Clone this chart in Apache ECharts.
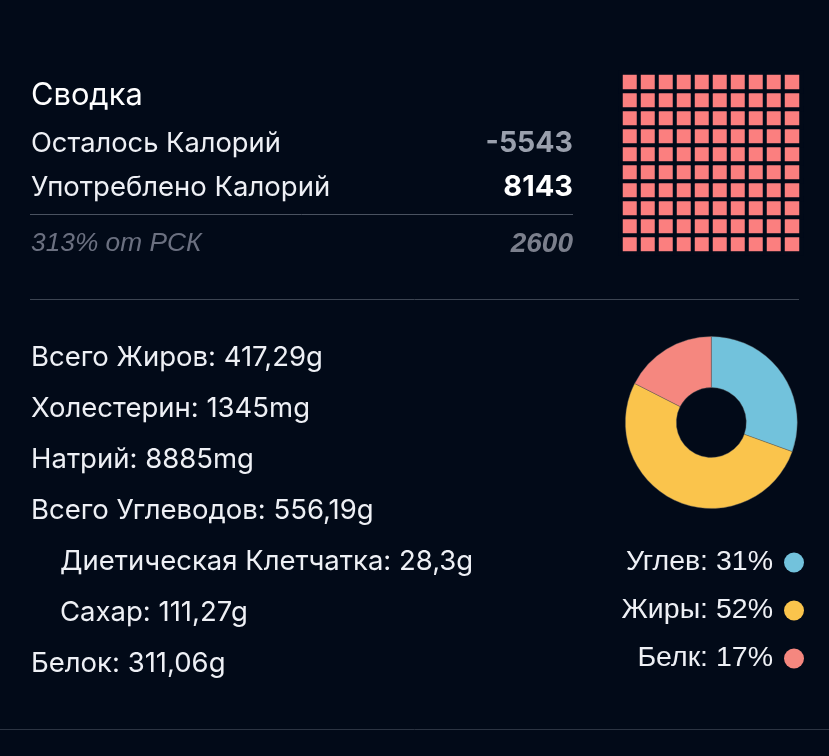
<!DOCTYPE html>
<html>
<head>
<meta charset="utf-8">
<style>
html,body{margin:0;padding:0;background:#020a18;}
#chart{width:829px;height:756px;}
</style>
<script src="https://cdn.jsdelivr.net/npm/echarts@6/dist/echarts.min.js"></script>
</head>
<body>
<div id="chart"></div>
<script>
var macroNames = ['Углев', 'Жиры', 'Белк'];
var macroPercents = [31, 52, 17];
// slice sizes as measured on the donut, the legend shows them rounded
var macroValues = [30.5, 52, 17.5];
var macroColors = ['#72c2dc', '#fac44c', '#f5877f'];

var waffleCols = ['1', '2', '3', '4', '5', '6', '7', '8', '9', '10'];
var waffleRows = ['1', '2', '3', '4', '5', '6', '7', '8', '9', '10'];

var summaryTitle = 'Сводка';
var summaryLabels = ['Осталось Калорий', 'Употреблено Калорий', '313% от РСК'];
var summaryValues = ['-5543', '8143', '2600'];

var nutrientLabels = [
    'Всего Жиров: 417,29g',
    'Холестерин: 1345mg',
    'Натрий: 8885mg',
    'Всего Углеводов: 556,19g',
    'Диетическая Клетчатка: 28,3g',
    'Сахар: 111,27g',
    'Белок: 311,06g'
];
var nutrientIndent = [0, 0, 0, 0, 1, 1, 0];

var bg = '#020a18';
var sans = 'Inter, "Noto Sans", sans-serif';
var helv = '"Liberation Sans", sans-serif';

function text(x, y, str, size, color, opts){
    opts = opts || {};
    return {
        type: 'text',
        x: x,
        y: y,
        silent: true,
        style: {
            text: str,
            fill: color,
            font: (opts.style || '') + ' ' + (opts.weight || 400) + ' ' + size + 'px ' + (opts.family || sans),
            textAlign: opts.align || 'left',
            textVerticalAlign: 'middle'
        }
    };
}

function line(x1, x2, y, color){
    return {
        type: 'line',
        silent: true,
        shape: {x1: x1, y1: y, x2: x2, y2: y},
        style: {stroke: color, lineWidth: 1}
    };
}

function buildGraphic(){
    var items = [];
    items.push(text(31, 95.5, summaryTitle, 30.8, '#ffffff'));
    items.push(text(31, 143.5, summaryLabels[0], 27.3, '#eef0f5'));
    items.push(text(573, 143.5, summaryValues[0], 28.5, '#9aa0ad', {align: 'right', weight: 700}));
    items.push(text(31, 187.5, summaryLabels[1], 27.5, '#eef0f5'));
    items.push(text(573, 187.5, summaryValues[1], 29, '#ffffff', {align: 'right', weight: 700}));
    items.push(line(30, 573, 214.5, '#4a5260'));
    items.push(text(31, 244, summaryLabels[2], 26.3, '#6b7080', {style: 'italic', family: helv}));
    items.push(text(573, 244, summaryValues[2], 28, '#7b7f8c', {style: 'italic', weight: 700, family: helv, align: 'right'}));
    items.push(line(30, 799, 299.5, '#3d4552'));
    nutrientLabels.forEach(function(item, index){
        items.push(text(nutrientIndent[index] ? 60 : 31, 358 + index * 51, item, 27.5, '#eef0f5'));
    });
    items.push(line(0, 829, 729.5, '#2c3442'));
    return items;
}

var waffleData = [];
waffleRows.forEach(function(row){
    waffleCols.forEach(function(col){
        waffleData.push([col, row, 1]);
    });
});

var pieData = macroNames.map(function(name, index){
    return {name: name, value: macroValues[index], itemStyle: {color: macroColors[index]}};
});

var chart = echarts.init(document.getElementById('chart'));
chart.setOption({
    backgroundColor: bg,
    animation: false,
    grid: {left: 621, top: 73, width: 180, height: 180},
    xAxis: {type: 'category', data: waffleCols, show: false},
    yAxis: {type: 'category', data: waffleRows, show: false},
    legend: {
        orient: 'vertical',
        right: 25,
        top: 548,
        padding: 0,
        align: 'right',
        icon: 'circle',
        itemWidth: 20,
        itemHeight: 20,
        itemGap: 19,
        selectedMode: false,
        itemStyle: {borderWidth: 0},
        formatter: function(name){
            return '{t|' + name + ': ' + macroPercents[macroNames.indexOf(name)] + '%}';
        },
        textStyle: {
            rich: {
                t: {color: '#eef0f5', fontSize: 28.5, fontFamily: helv, padding: [0, 6, 0, 0]}
            }
        }
    },
    series: [
        {
            type: 'heatmap',
            data: waffleData,
            itemStyle: {color: '#fb7f7f', borderColor: bg, borderWidth: 4},
            silent: true
        },
        {
            type: 'pie',
            center: [711.3, 422.5],
            radius: [35, 86],
            startAngle: 90,
            label: {show: false},
            itemStyle: {borderColor: '#5a5a5a', borderWidth: 0.4},
            data: pieData,
            silent: true
        }
    ],
    graphic: buildGraphic()
});
</script>
</body>
</html>
